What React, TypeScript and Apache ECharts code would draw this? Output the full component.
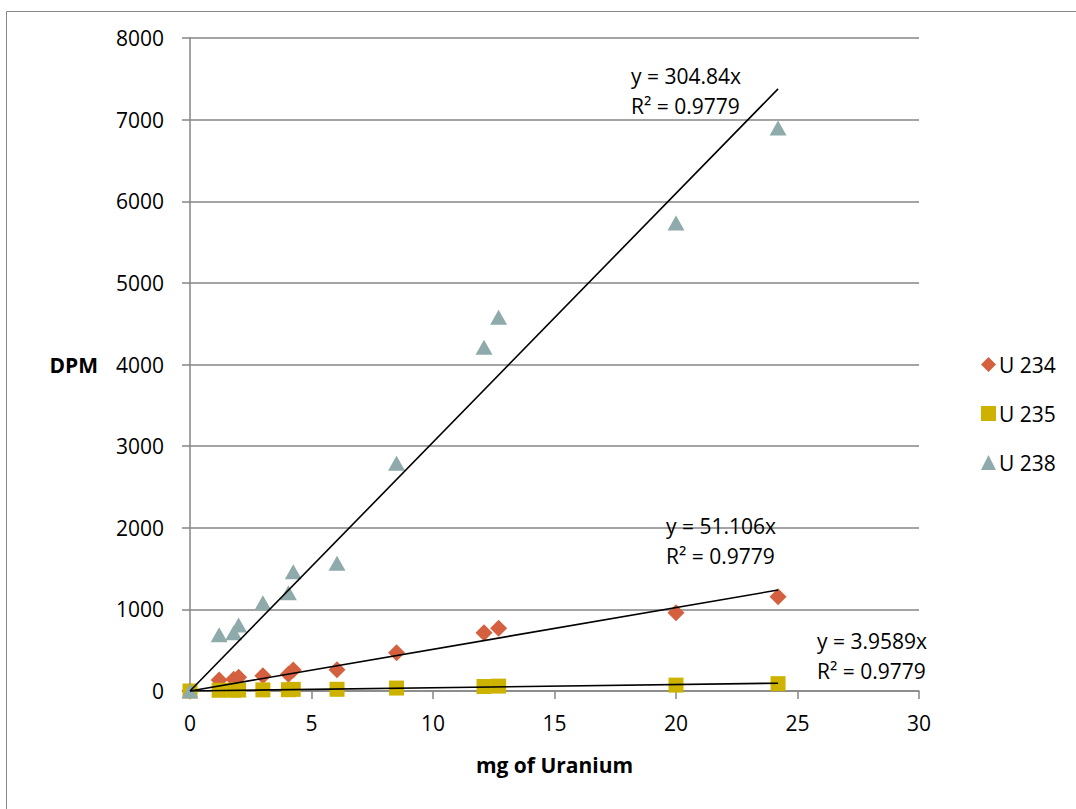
import React, { useEffect, useRef } from "react";
import * as echarts from "echarts";

const xValues = [0, 1.2, 1.8, 2.0, 3.0, 4.05, 4.25, 6.05, 8.5, 12.1, 12.7, 20.0, 24.2];
const u234 = [0, 135, 143, 168, 188, 204, 257, 260, 469, 714, 768, 959, 1155];
const u235 = [0, 9, 10, 12, 14, 16, 20, 21, 36, 55, 60, 72, 90];
const u238 = [0, 690, 715, 808, 1082, 1205, 1462, 1564, 2789, 4210, 4578, 5733, 6897];
const seriesNames = ["U 234", "U 235", "U 238"];
const slopes = [51.106, 3.9589, 304.84];
const r2 = [0.9779, 0.9779, 0.9779];
const xTicks = { min: 0, max: 30, interval: 5 };
const yTicks = { min: 0, max: 8000, interval: 1000 };

const FONT = "Open Sans";

export default function App() {
  const ref = useRef<HTMLDivElement>(null);
  useEffect(() => {
    if (!ref.current) return;
    const chart = echarts.init(ref.current, null, { renderer: "svg" });
    const gray = "#868686";
    const colors = ["#D5603F", "#CDB300", "#8EAAAA"];
    const symbols = ["diamond", "rect", "triangle"];
    const sizes = [[17, 17], [15, 15], [17, 15]];
    const values = [u234, u235, u238];
    const xMax = Math.max(...xValues);
    const labelPos = [[-112, -79], [39, -57], [-147, -28]];

    const scatter = seriesNames.map((name, i) => ({
      name,
      type: "scatter",
      symbol: symbols[i],
      symbolSize: sizes[i],
      itemStyle: { color: colors[i], opacity: 1 },
      data: xValues.map((x, j) => [x, values[i][j]]),
      z: 3,
    }));
    const trends = slopes.map((s, i) => ({
      name: "trend" + i,
      type: "line",
      showSymbol: true,
      symbol: "circle",
      symbolSize: 0,
      lineStyle: { color: "#000", width: 1.6 },
      itemStyle: { color: "#000" },
      z: 4,
      silent: true,
      data: [
        [0, 0],
        {
          value: [xMax, s * xMax],
          label: {
            show: true,
            position: labelPos[i],
            formatter: `y = ${s}x\nR² = ${r2[i]}`,
            fontFamily: FONT,
            fontSize: 21,
            lineHeight: 30,
            color: "#000",
          },
        },
      ],
    }));

    chart.setOption({
      animation: false,
      textStyle: { fontFamily: FONT },
      grid: { left: 190, right: 157, top: 38, bottom: 118, containLabel: false },
      legend: {
        orient: "vertical",
        left: 976,
        top: 349,
        itemGap: 28,
        itemWidth: 15,
        itemHeight: 15,
        data: seriesNames.map((n, i) => ({ name: n, icon: symbols[i] })),
        textStyle: { fontFamily: FONT, fontSize: 21, color: "#000", padding: [0, 0, 0, -2] },
      },
      xAxis: {
        type: "value",
        min: xTicks.min,
        max: xTicks.max,
        interval: xTicks.interval,
        name: "mg of Uranium",
        nameLocation: "middle",
        nameGap: 63,
        nameTextStyle: { fontFamily: FONT, fontWeight: "bold", fontSize: 21, color: "#000" },
        axisLine: { show: true, lineStyle: { color: gray, width: 1.5 } },
        axisTick: { show: true, length: 8, lineStyle: { color: gray, width: 1.5 } },
        axisLabel: { fontFamily: FONT, fontSize: 21, color: "#000", margin: 21 },
        splitLine: { show: false },
      },
      yAxis: {
        type: "value",
        min: yTicks.min,
        max: yTicks.max,
        interval: yTicks.interval,
        name: "DPM",
        nameLocation: "middle",
        nameRotate: 0,
        nameGap: 92,
        nameTextStyle: { fontFamily: FONT, fontWeight: "bold", fontSize: 21, color: "#000" },
        axisLine: { show: true, lineStyle: { color: gray, width: 1.5 } },
        axisTick: { show: true, length: 8, lineStyle: { color: gray, width: 1.5 } },
        axisLabel: { fontFamily: FONT, fontSize: 21, color: "#000", margin: 26, formatter: (v: number) => String(v) },
        splitLine: { show: true, lineStyle: { color: gray, width: 1.5 } },
      },
      graphic: [
        {
          type: "rect",
          left: 4,
          top: 9,
          shape: { width: 1200, height: 1000 },
          style: { fill: "none", stroke: gray, lineWidth: 1 },
          silent: true,
        },
      ],
      series: [...scatter, ...trends],
    });
    return () => chart.dispose();
  }, []);
  return (
    <div
      ref={ref}
      style={{ position: "fixed", left: 0, top: 0, width: 1076, height: 809, background: "#fff" }}
    />
  );
}
